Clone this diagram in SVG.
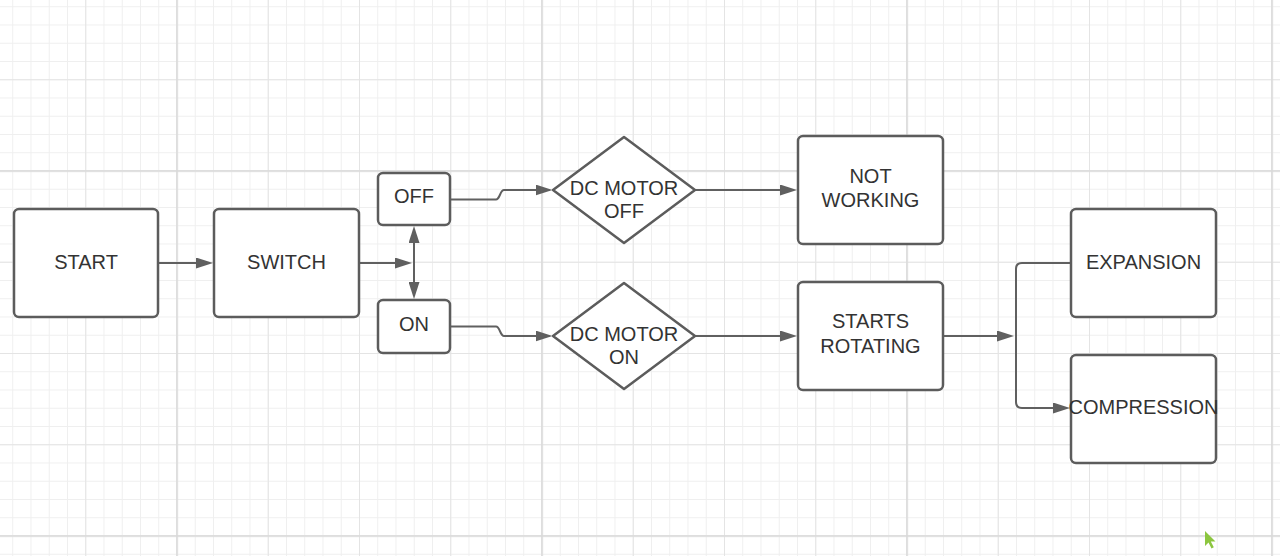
<svg xmlns="http://www.w3.org/2000/svg" width="1280" height="556" viewBox="0 0 1280 556">
<style>
.node{fill:#ffffff;stroke:#5c5c5c;stroke-width:2.5;stroke-linejoin:round}
.lbl{font-family:"Liberation Sans",Arial,sans-serif;font-size:20px;fill:#333333;text-anchor:middle}
.conn{fill:none;stroke:#606060;stroke-width:2}
</style>
<defs>
<pattern id="gMinor" patternUnits="userSpaceOnUse" x="12.25" y="6.25" width="18.25" height="18.25">
<path d="M0.5,0 V18.25 M0,0.5 H18.25" stroke="#efefef" stroke-width="1" fill="none"/>
</pattern>
<pattern id="gMid" patternUnits="userSpaceOnUse" x="85.25" y="79.25" width="91.25" height="91.25">
<path d="M0.5,0 V91.25 M0,0.5 H91.25" stroke="#e4e4e4" stroke-width="1" fill="none"/>
</pattern>
<pattern id="gMajor" patternUnits="userSpaceOnUse" x="176.25" y="170.25" width="365" height="365">
<path d="M0.75,0 V365 M0,0.75 H365" stroke="#d9d9d9" stroke-width="1.5" fill="none"/>
</pattern>
<marker id="arr" markerUnits="userSpaceOnUse" markerWidth="17" markerHeight="11" refX="14" refY="5.5" orient="auto-start-reverse">
<path d="M0,0 L17,5.5 L0,11 Z" fill="#606060"/>
</marker>
</defs>
<rect width="1280" height="556" fill="#ffffff"/>
<rect width="1280" height="556" fill="url(#gMinor)"/>
<rect width="1280" height="556" fill="url(#gMid)"/>
<rect width="1280" height="556" fill="url(#gMajor)"/>

<g id="connectors">
<path class="conn" d="M159,263 H210" marker-end="url(#arr)"/>
<path class="conn" d="M360,263 H409" marker-end="url(#arr)"/>
<path class="conn" d="M414,229 V296" marker-start="url(#arr)" marker-end="url(#arr)"/>
<path class="conn" d="M451,199.5 H496 C500,199.5 500,190 504,190 H549.5" marker-end="url(#arr)"/>
<path class="conn" d="M451,326.5 H496 C500,326.5 500,336 504,336 H549.5" marker-end="url(#arr)"/>
<path class="conn" d="M695,190 H794" marker-end="url(#arr)"/>
<path class="conn" d="M695,336 H794" marker-end="url(#arr)"/>
<path class="conn" d="M943,336 H1011" marker-end="url(#arr)"/>
<path class="conn" d="M1070,263 H1022 Q1016,263 1016,269 V402 Q1016,408 1022,408 H1067" marker-end="url(#arr)"/>
</g>

<g id="start">
<rect class="node" x="14" y="209" width="144" height="108" rx="5"/>
<text class="lbl" x="86" y="269">START</text>
</g>
<g id="switch">
<rect class="node" x="214" y="209" width="145" height="108" rx="5"/>
<text class="lbl" x="286.5" y="269">SWITCH</text>
</g>
<g id="off">
<rect class="node" x="378" y="173" width="72" height="52" rx="5"/>
<text class="lbl" x="414" y="203.3">OFF</text>
</g>
<g id="on">
<rect class="node" x="378" y="300" width="72" height="53" rx="5"/>
<text class="lbl" x="414" y="330.7">ON</text>
</g>
<g id="dc-motor-off">
<polygon class="node" points="553,190 624,137 695,190 624,243"/>
<text class="lbl" x="624" y="195">DC MOTOR</text>
<text class="lbl" x="624" y="218.3">OFF</text>
</g>
<g id="dc-motor-on">
<polygon class="node" points="553,336 624,283 695,336 624,389"/>
<text class="lbl" x="624" y="341">DC MOTOR</text>
<text class="lbl" x="624" y="364.3">ON</text>
</g>
<g id="not-working">
<rect class="node" x="798" y="136" width="145" height="108" rx="5"/>
<text class="lbl" x="870.5" y="182.7">NOT</text>
<text class="lbl" x="870.5" y="206.7">WORKING</text>
</g>
<g id="starts-rotating">
<rect class="node" x="798" y="282" width="145" height="108" rx="5"/>
<text class="lbl" x="870.5" y="328.3">STARTS</text>
<text class="lbl" x="870.5" y="353">ROTATING</text>
</g>
<g id="expansion">
<rect class="node" x="1071" y="209" width="145" height="108" rx="5"/>
<text class="lbl" x="1143.5" y="269.3">EXPANSION</text>
</g>
<g id="compression">
<rect class="node" x="1071" y="355" width="145" height="108" rx="5"/>
<text class="lbl" x="1143.5" y="414">COMPRESSION</text>
</g>

<polygon points="1205,531 1205,546 1208.5,542.5 1211.5,548.5 1213.8,547.3 1210.8,541.5 1215.5,541.5" fill="#8cc63f"/>
</svg>
